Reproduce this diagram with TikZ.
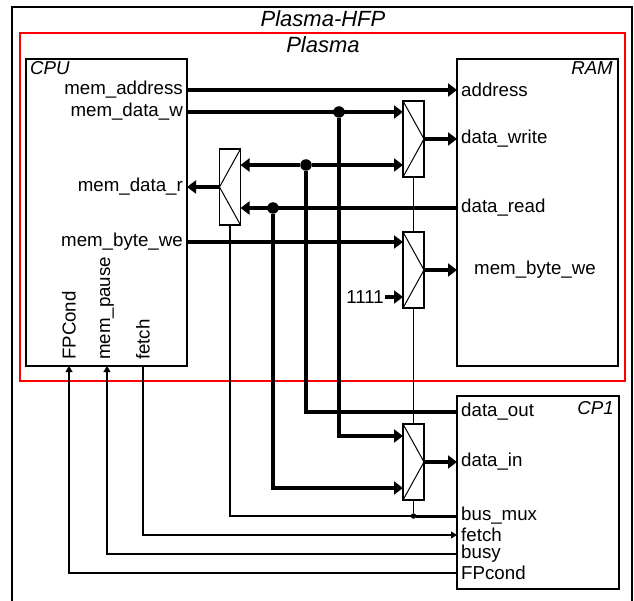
\documentclass[tikz,border=0pt]{standalone}
\usepackage{fontspec}
\setmainfont{Liberation Sans}
\usetikzlibrary{positioning, arrows.meta}

\begin{document}
\begin{tikzpicture}[x=1pt, y=-1pt,
    box/.style = {draw, line width=1.6pt, anchor=north west, inner sep=0pt, outer sep=0pt},
    mux/.style = {draw, line width=1.3pt, minimum width=21pt, minimum height=76pt, inner sep=0pt, outer sep=0pt,
        path picture={\draw[line width=1pt] (path picture bounding box.north west) -- (path picture bounding box.east) -- (path picture bounding box.south west);}},
    muxl/.style = {draw, line width=1.3pt, minimum width=21pt, minimum height=76pt, inner sep=0pt, outer sep=0pt,
        path picture={\draw[line width=1pt] (path picture bounding box.north east) -- (path picture bounding box.west) -- (path picture bounding box.south east);}},
    port/.style = {font=\fontsize{18.7}{22}\selectfont, inner sep=1pt},
    title/.style = {font=\fontsize{18.7}{22}\selectfont\itshape, inner xsep=4pt, inner ysep=2pt},
    big/.style = {font=\fontsize{22}{26}\selectfont\itshape, inner sep=0pt},
    bus/.style = {line width=4pt, -{Triangle[length=9pt, width=13pt]}},
    wire/.style = {line width=1.2pt},
    sarrow/.style = {-{Triangle[length=6pt, width=7pt]}},
    dot/.style = {circle, fill, inner sep=0pt, minimum size=11.5pt}]
    \useasboundingbox (0,0) rectangle (634,601);

    % 外框
    \draw[line width=2pt] (12,610) -- (12,7) -- (632,7) -- (632,610);
    \draw[red, line width=1.3pt] (20,33) rectangle (625,381);
    \node[big] (tHFP) at (323,19) {Plasma-HFP};
    \node[big] (tPlasma) at (323,45) {Plasma};

    % 模块定义
    \node[box, minimum width=161pt, minimum height=307pt] (cpu) at (26,59) {};
    \node[box, minimum width=161pt, minimum height=307pt] (ram) at (457,59) {};
    \node[box, minimum width=162pt, minimum height=193pt] (cp1) at (457,396) {};
    \node[title, anchor=north west] (tCPU) at (cpu.north west) {CPU};
    \node[title, anchor=north east, inner xsep=5pt] (tRAM) at (ram.north east) {RAM};
    \node[title, anchor=north east, inner xsep=5pt, inner ysep=5pt] (tCP1) at (cp1.north east) {CP1};

    % 多路选择器
    \node[mux] (muxW) at (413.5,139) {};
    \node[mux] (muxB) at (413.5,270) {};
    \node[mux] (muxC) at (413.5,462) {};
    \node[muxl] (muxR) at (230,187) {};

    % 端口
    \node[port, anchor=east] (pAddr) at (184,90) {mem\_address};
    \node[port, anchor=east] (pDataW) at (184,112) {mem\_data\_w};
    \node[port, anchor=east] (pDataR) at (184,187) {mem\_data\_r};
    \node[port, anchor=east] (pByteWe) at (184,242) {mem\_byte\_we};
    \node[port, rotate=90, anchor=west] (pFPCond) at (69,361) {FPCond};
    \node[port, rotate=90, anchor=west] (pPause) at (107,361) {mem\_pause};
    \node[port, rotate=90, anchor=west] (pFetch) at (143,361) {fetch};

    \node[port, anchor=west] (rAddr) at (460,90) {address};
    \node[port, anchor=west] (rDataW) at (460,139) {data\_write};
    \node[port, anchor=west] (rDataR) at (460,208) {data\_read};
    \node[port] (rByteWe) at (535,270) {mem\_byte\_we};

    \node[port, anchor=west] (cOut) at (460,412) {data\_out};
    \node[port, anchor=west] (cIn) at (460,462) {data\_in};
    \node[port, anchor=west] (cMux) at (460,516) {bus\_mux};
    \node[port, anchor=west] (cFetch) at (460,535) {fetch};
    \node[port, anchor=west] (cBusy) at (460,554) {busy};
    \node[port, anchor=west] (cFP) at (460,573) {FPcond};

    \node[port, anchor=east] (k1111) at (385,297) {1111};

    % 连接点
    \node[dot] (jW) at (339,112) {};
    \node[dot] (jO) at (306,165) {};
    \node[dot] (jR) at (273,208) {};
    \node[dot, minimum size=5.5pt] (jS) at (413.5,516) {};

    % 总线
    \draw[bus] (cpu.east |- pAddr) -- (ram.west |- pAddr);
    \draw[bus] (cpu.east |- jW) -- (muxW.west |- jW);
    \draw[bus] (jW) |- ([yshift=26pt]muxC.west);
    \draw[bus] (muxW.east) -- (ram.west |- muxW.east);
    \draw[line width=4pt] (cp1.west |- cOut) -| (jO);
    \draw[bus] (jO) -- (muxW.west |- jO);
    \draw[bus] (jO) -- (muxR.east |- jO);
    \draw[bus] (ram.west |- rDataR) -- (muxR.east |- rDataR);
    \draw[bus] (jR) |- ([yshift=-26pt]muxC.west);
    \draw[bus] (muxR.west) -- (cpu.east |- muxR.west);
    \draw[bus] (cpu.east |- pByteWe) -- (muxB.west |- pByteWe);
    \draw[bus] (k1111) -- (muxB.west |- k1111);
    \draw[bus] (muxB.east) -- (ram.west |- muxB.east);
    \draw[bus] (muxC.east) -- (cp1.west |- muxC.east);

    % 控制线
    \draw[wire] (muxW.south) -- (muxB.north);
    \draw[wire] (muxB.south) -- (muxC.north);
    \draw[wire] (muxC.south) -- (jS);
    \draw[wire] (muxR.south) |- (jS);
    \draw[line width=3pt] (jS) -- (cp1.west |- jS);
    \draw[wire, sarrow] (pFetch |- cpu.south) |- (cp1.west |- cFetch);
    \draw[wire, sarrow] (cp1.west |- cBusy) -| (pPause |- cpu.south);
    \draw[wire, sarrow] (cp1.west |- cFP) -| (pFPCond |- cpu.south);
\end{tikzpicture}
\end{document}
